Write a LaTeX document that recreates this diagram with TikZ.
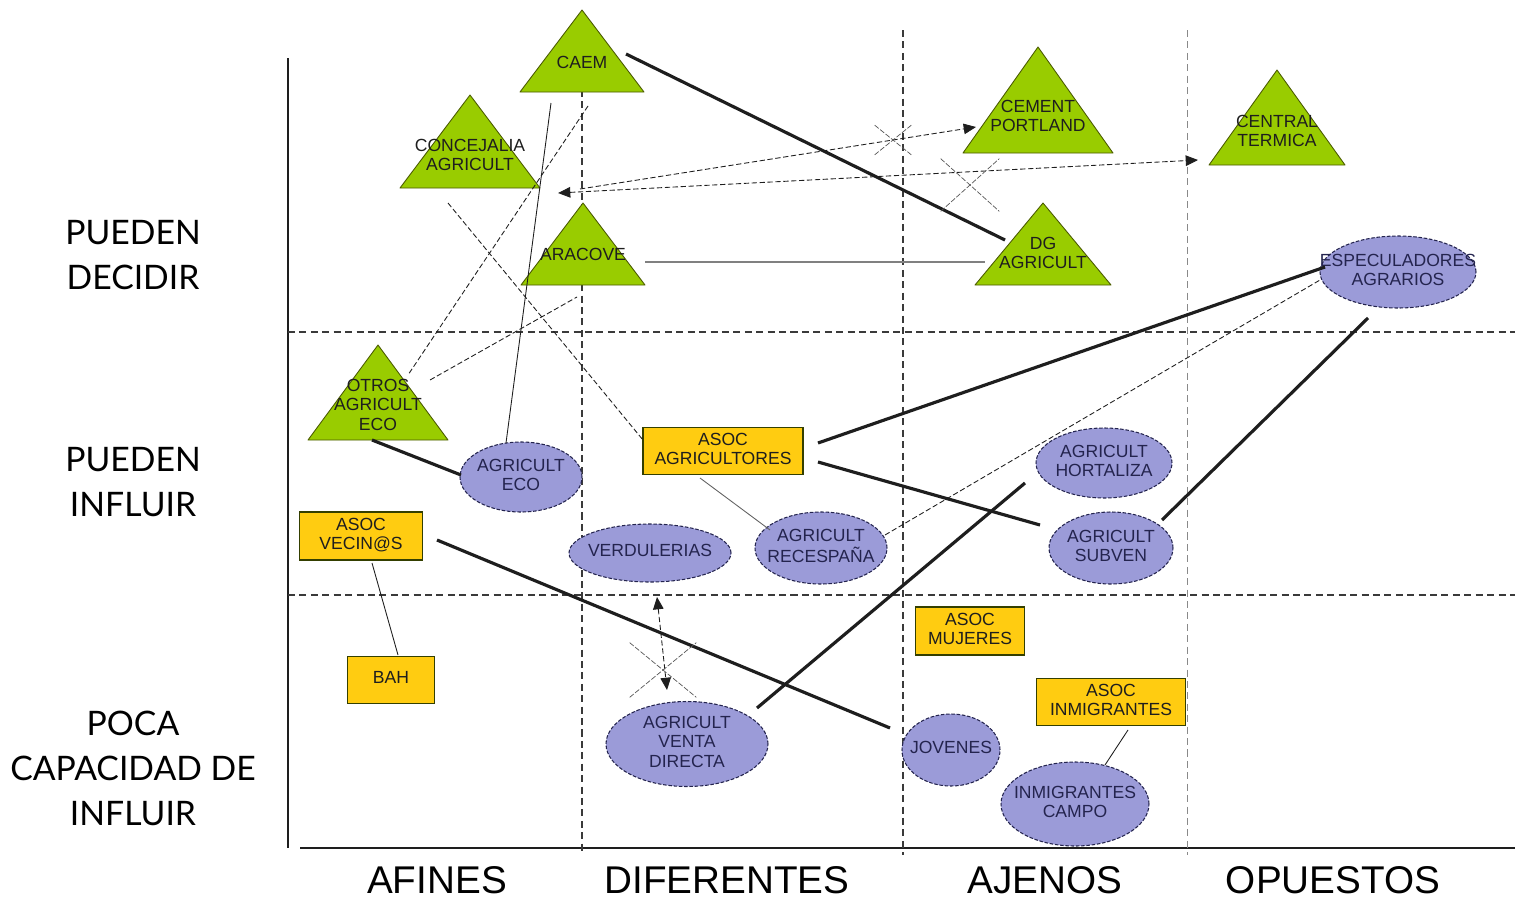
\documentclass[tikz,border=0pt]{standalone}
\usepackage{fontspec}
\setmainfont{Liberation Sans}
\newfontfamily\rowfont{Lato}
\usepackage{tikz}
\usetikzlibrary{calc,arrows.meta,shapes.geometric,shapes.misc}
\definecolor{ink}{HTML}{1E1E1E}
\definecolor{navy}{HTML}{24244E}
\definecolor{leaf}{HTML}{99CC00}
\definecolor{olive}{HTML}{4A5A00}
\definecolor{lilac}{HTML}{9B9BD8}
\definecolor{gold}{HTML}{FFCC11}
\definecolor{grid}{HTML}{3A3A3A}
\newcommand{\lines}[1]{\makebox[0pt]{\begin{tabular}{@{}c@{}}#1\end{tabular}}}
\tikzset{
  sz/.style 2 args={minimum width=#1*0.02cm, minimum height=#2*0.02cm},
  axis/.style={draw=ink, line width=0.8pt},
  sep/.style={draw=grid, line width=0.7pt, dash pattern=on 4pt off 2.5pt},
  sepl/.style={draw=grid!60, line width=0.5pt, dash pattern=on 4pt off 2.5pt},
  tri/.style={fill=leaf, draw=olive, line width=0.5pt, line join=round},
  tlab/.style={text=ink, font=\fontsize{10}{11}\selectfont, inner sep=0pt},
  ell/.style={ellipse, fill=lilac, draw=navy, line width=0.6pt, dash pattern=on 2pt off 1pt,
    text=navy, font=\fontsize{10}{11}\selectfont, inner sep=0pt},
  box/.style={rectangle, fill=gold, draw=olive!70!black, line width=0.6pt,
    text=ink, font=\fontsize{10}{11}\selectfont, inner sep=0pt},
  strong/.style={draw=ink, line width=1.8pt},
  mid/.style={draw=gray, line width=1.1pt},
  weak/.style={draw=ink, line width=0.5pt},
  weakd/.style={draw=ink, line width=0.5pt, dash pattern=on 3pt off 1.5pt},
  brk/.style={cross out, draw=ink!75, line width=0.4pt, dash pattern=on 3pt off 1pt, inner sep=0pt},
  tip/.style={-{Triangle[length=7pt,width=6pt]}},
  tips/.style={{Triangle[length=7pt,width=6pt]}-{Triangle[length=7pt,width=6pt]}},
  rowlab/.style={align=center, font=\rowfont\fontsize{19.2}{25.6}\selectfont},
  collab/.style={font=\fontsize{22}{26}\selectfont},
}
\begin{document}
\begin{tikzpicture}[x=0.02cm, y=-0.02cm]
  \useasboundingbox (0,0) rectangle (1515,899);
  \draw[axis] (288,58) -- (288,848);
  \draw[axis] (300,848) -- (1515,848);
  \foreach \y in {332,595}
    \draw[sep] (288,\y) -- (1515,\y);
  \draw[sep] (582,10) -- (582,855);
  \draw[sep] (903,30) -- (903,855);
  \draw[sepl] (1187,30) -- (1187,855);

  \foreach \n/\x/\a/\b/\h/\ly/\t in {caem/582/10/92/62/65/CAEM,
      conc/470/95/188/70/157/CONCEJALIA\\AGRICULT,
      aracove/583/203/285/62/257/ARACOVE,
      cement/1038/47/153/75/118/CEMENT\\PORTLAND,
      central/1277/70/165/68/133/CENTRAL\\TERMICA,
      dg/1043/203/285/68/255/DG\\AGRICULT,
      otros/378/345/440/70/407/OTROS\\AGRICULT\\ECO}{
    \filldraw[tri] (\x-\h,\b) -- (\x,\a) -- (\x+\h,\b) -- cycle;
    \node[tlab] (\n) at (\x,\ly) {\lines{\t}};
  }

  \node[ell, sz={156}{72}] (espec) at (1398,272) {\lines{ESPECULADORES\\AGRARIOS}};
  \node[ell, sz={122}{70}] (agreco) at (521,477) {\lines{AGRICULT\\ECO}};
  \node[ell, sz={162}{58}] (verdul) at (650,553) {\lines{VERDULERIAS}};
  \node[ell, sz={132}{72}] (agrrec) at (821,548) {\lines{AGRICULT\\RECESPAÑA}};
  \node[ell, sz={136}{70}] (agrhor) at (1104,463) {\lines{AGRICULT\\HORTALIZA}};
  \node[ell, sz={124}{72}] (agrsub) at (1111,548) {\lines{AGRICULT\\SUBVEN}};
  \node[ell, sz={98}{72}] (jovenes) at (951,750) {\lines{JOVENES}};
  \node[ell, sz={148}{84}] (inmcam) at (1075,804) {\lines{INMIGRANTES\\CAMPO}};
  \node[ell, sz={162}{85}] (venta) at (687,744) {\lines{AGRICULT\\VENTA\\DIRECTA}};

  \node[box, sz={160}{47}] (asocagr) at (723,451) {\lines{ASOC\\AGRICULTORES}};
  \node[box, sz={123}{48}] (asocvec) at (361,536) {\lines{ASOC\\VECIN@S}};
  \node[box, sz={87}{47}] (bah) at (391,680) {\lines{BAH}};
  \node[box, sz={109}{48}] (asocmuj) at (970,631) {\lines{ASOC\\MUJERES}};
  \node[box, sz={149}{47}] (asocinm) at (1111,702) {\lines{ASOC\\INMIGRANTES}};

  \draw[strong] ($(caem)+(44,-11)$) -- ($(dg)+(-38,-15)$);
  \draw[mid] ($(aracove)+(62,5)$) -- ($(dg)+(-58,7)$);
  \draw[weakd, tips] ($(conc)+(88,36)$) -- ($(central)+(-79,27)$);
  \draw[weakd, tip] ($(conc)+(110,32)$) -- ($(cement)+(-62,9)$);
  \draw[weak] ($(caem)+(-31,38)$) -- ($(agreco)+(-15,-34)$);
  \draw[weakd] ($(caem)+(6,41)$) -- ($(otros)+(30,-32)$);
  \draw[weakd] ($(conc)+(-22,46)$) -- ($(asocagr)+(-80,-11)$);
  \draw[weakd] ($(otros)+(52,-27)$) -- ($(aracove)+(-6,40)$);
  \draw[strong] ($(otros)+(-6,33)$) -- ($(agreco)+(-60,-2)$);
  \draw[strong] ($(asocagr)+(95,-8)$) -- ($(espec)+(-73,-5)$);
  \draw[strong] ($(asocagr)+(95,11)$) -- ($(agrsub)+(-71,-23)$);
  \draw[strong] ($(agrsub)+(51,-28)$) -- ($(espec)+(-30,46)$);
  \draw[weak, draw=ink!70] ($(asocagr)+(-23,27)$) -- ($(agrrec)+(-51,-18)$);
  \draw[weakd] ($(agrrec)+(64,-13)$) -- ($(espec)+(-78,8)$);
  \draw[strong] ($(venta)+(70,-36)$) -- ($(agrhor)+(-79,20)$);
  \draw[strong] ($(asocvec)+(76,4)$) -- ($(jovenes)+(-61,-22)$);
  \draw[weak] ($(asocvec)+(11,27)$) -- ($(bah)+(7,-25)$);
  \draw[weakd, tips] ($(verdul)+(7,44)$) -- ($(venta)+(-20,-54)$);
  \draw[weak] ($(asocinm)+(17,28)$) -- ($(inmcam)+(30,-39)$);

  \node[brk, sz={36}{29}] (cut1) at (893,140) {};
  \node[brk, sz={58}{52}] (cut2) at (970,185) {};
  \node[brk, sz={66}{54}] (cut3) at (663,670) {};

  \node[rowlab] (decidir) at (133,255) {PUEDEN\\DECIDIR};
  \node[rowlab] (influir) at (133,482) {PUEDEN\\INFLUIR};
  \node[rowlab] (poca) at (133,768) {POCA\\CAPACIDAD DE\\INFLUIR};
  \foreach \n/\x/\t in {afines/437/AFINES, diferentes/727/DIFERENTES,
      ajenos/1045/AJENOS, opuestos/1333/OPUESTOS}
    \node[collab] (\n) at (\x,880) {\t};
\end{tikzpicture}
\end{document}
